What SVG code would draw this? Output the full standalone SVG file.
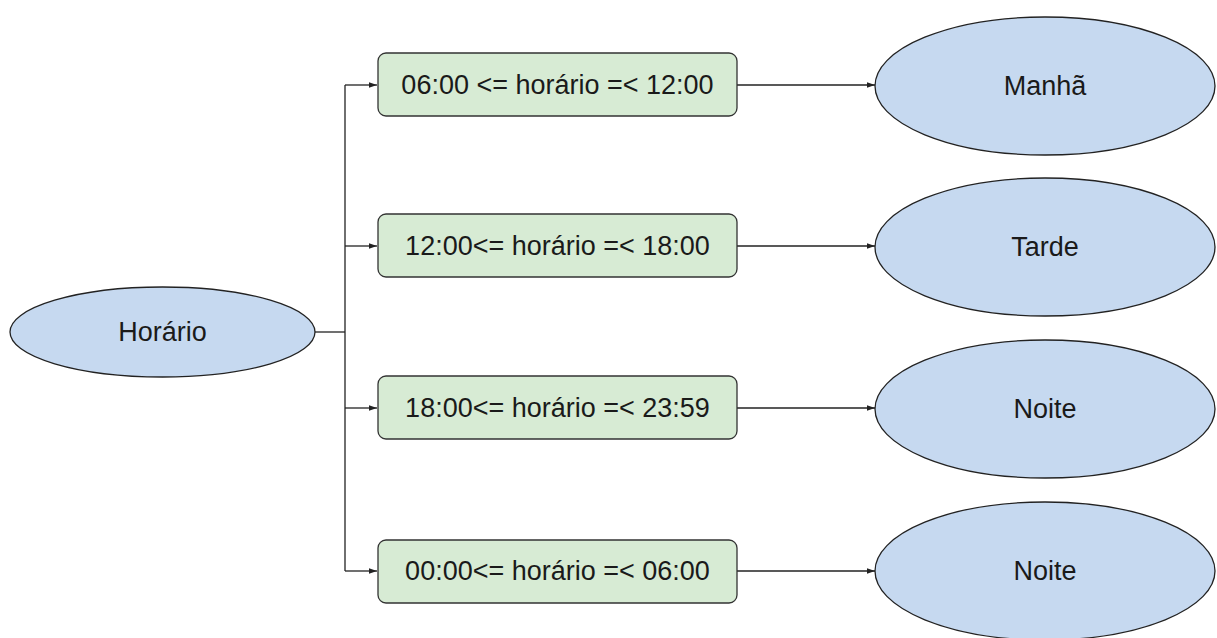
<svg xmlns="http://www.w3.org/2000/svg" width="1217" height="638" viewBox="0 0 1217 638">
<style>
.ell{fill:#c6d9f0;stroke:#222;stroke-width:1.3}
.box{fill:#d7ebd4;stroke:#333;stroke-width:1.3}
.t{font-family:"Liberation Sans",Arial,sans-serif;font-size:27px;fill:#1a1a1a;text-anchor:middle;dominant-baseline:central}
.c{fill:none;stroke:#222;stroke-width:1.3}
</style>
<defs>
<marker id="ah" viewBox="0 0 10 10" refX="10" refY="5" markerWidth="8" markerHeight="8" orient="auto" markerUnits="userSpaceOnUse"><path d="M0,1.5 L10,5 L0,8.5 Z" fill="#222"/></marker>
</defs>
<rect width="1217" height="638" fill="#fff"/>
<g id="connectors">
<path class="c" d="M315,332 H345"/>
<path class="c" d="M345,85 V571"/>
<path class="c" d="M345,85 H377" marker-end="url(#ah)"/>
<path class="c" d="M345,246 H377" marker-end="url(#ah)"/>
<path class="c" d="M345,408 H377" marker-end="url(#ah)"/>
<path class="c" d="M345,571 H377" marker-end="url(#ah)"/>
<path class="c" d="M737,85 H875" marker-end="url(#ah)"/>
<path class="c" d="M737,246 H875" marker-end="url(#ah)"/>
<path class="c" d="M737,408 H875" marker-end="url(#ah)"/>
<path class="c" d="M737,571 H875" marker-end="url(#ah)"/>
</g>
<g id="horario"><ellipse class="ell" cx="162.5" cy="332" rx="152.5" ry="45"/><text class="t" x="162.5" y="332">Horário</text></g>
<g id="c1"><rect class="box" x="378" y="53" width="359" height="63" rx="8"/><text class="t" x="557.5" y="85">06:00 &lt;= horário =&lt; 12:00</text></g>
<g id="c2"><rect class="box" x="378" y="214" width="359" height="63" rx="8"/><text class="t" x="557.5" y="246">12:00&lt;= horário =&lt; 18:00</text></g>
<g id="c3"><rect class="box" x="378" y="376" width="359" height="63" rx="8"/><text class="t" x="557.5" y="408">18:00&lt;= horário =&lt; 23:59</text></g>
<g id="c4"><rect class="box" x="378" y="540" width="359" height="63" rx="8"/><text class="t" x="557.5" y="571">00:00&lt;= horário =&lt; 06:00</text></g>
<g id="manha"><ellipse class="ell" cx="1045" cy="86" rx="170" ry="69"/><text class="t" x="1045" y="86">Manhã</text></g>
<g id="tarde"><ellipse class="ell" cx="1045" cy="247" rx="170" ry="69"/><text class="t" x="1045" y="247">Tarde</text></g>
<g id="noite1"><ellipse class="ell" cx="1045" cy="409" rx="170" ry="69"/><text class="t" x="1045" y="409">Noite</text></g>
<g id="noite2"><ellipse class="ell" cx="1045" cy="571" rx="170" ry="69"/><text class="t" x="1045" y="571">Noite</text></g>
</svg>
